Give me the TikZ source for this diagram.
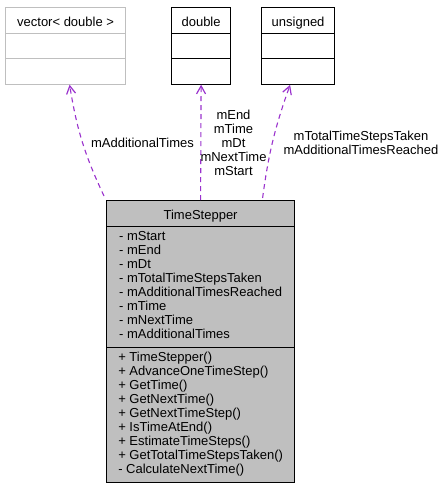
\documentclass[tikz,border=0pt]{standalone}
\usepackage{fontspec}
\setmainfont{Liberation Sans}
\usetikzlibrary{calc}
\usetikzlibrary{shapes}
\usetikzlibrary{arrows.meta}

\definecolor{usage}{HTML}{9A32CD}
\definecolor{classgrey}{HTML}{BFBFBF}
\newcommand{\rowstrut}{\rule[-2.5pt]{0pt}{16.3pt}}

\begin{document}
\begin{tikzpicture}[x=1pt,y=-1pt,
  font=\fontsize{13}{14}\selectfont,
  object/.style={rectangle split,
                 rectangle split parts=3,
                 fill=white,
                 draw,
                 line width=1.2pt,
                 align=left,
                 inner xsep=2pt,
                 inner ysep=4pt,
                 anchor=north west
  },
  uses/.style={draw=usage, line width=1.1pt, dash pattern=on 5pt off 4pt,
               -{Straight Barb[length=8pt,width=9pt,line width=1.2pt]}},
  member/.style={text=black, align=center, inner sep=0pt}
]
\useasboundingbox (0,0) rectangle (444,491);

\node [object, draw=classgrey, minimum width=120pt] (vec) at (5,7) {
   \rowstrut vector< double >
   \nodepart{second} \rowstrut
   \nodepart{third} \rowstrut
   };

\node [object, minimum width=59pt] (dbl) at (171,7) {
   \rowstrut double
   \nodepart{second} \rowstrut
   \nodepart{third} \rowstrut
   };

\node [object, minimum width=73pt] (uns) at (261,7) {
   \rowstrut unsigned
   \nodepart{second} \rowstrut
   \nodepart{third} \rowstrut
   };

\node [object, fill=classgrey, minimum width=188pt] (ts) at (106,200) {
   \rowstrut TimeStepper
   \nodepart{second} \strut- mStart \\
 - mEnd \\
 - mDt \\
 - mTotalTimeStepsTaken \\
 - mAdditionalTimesReached \\
 - mTime \\
 - mNextTime \\
 - mAdditionalTimes\strut
   \nodepart{third} \strut+ TimeStepper() \\
 + AdvanceOneTimeStep() \\
 + GetTime() \\
 + GetNextTime() \\
 + GetNextTimeStep() \\
 + IsTimeAtEnd() \\
 + EstimateTimeSteps() \\
 + GetTotalTimeStepsTaken() \\
 - CalculateNextTime()\strut
   };

% usage relations
\draw [uses] ($(ts.north west)+(-2,-4)$) to [bend left=8] ($(vec.south)+(4,0)$);
\node [member] (lvec) at (142.5,143) {mAdditionalTimes};

\draw [uses] (ts.north) -- (dbl.south);
\node [member] (ldbl) at (233.5,143) {mEnd \\ mTime \\ mDt \\ mNextTime \\ mStart};

\draw [uses] ($(ts.north)+(62,-2)$) to [bend left=6] ($(uns.south)+(-8,0)$);
\node [member] (luns) at (361,143) {mTotalTimeStepsTaken \\ mAdditionalTimesReached};

\end{tikzpicture}
\end{document}
